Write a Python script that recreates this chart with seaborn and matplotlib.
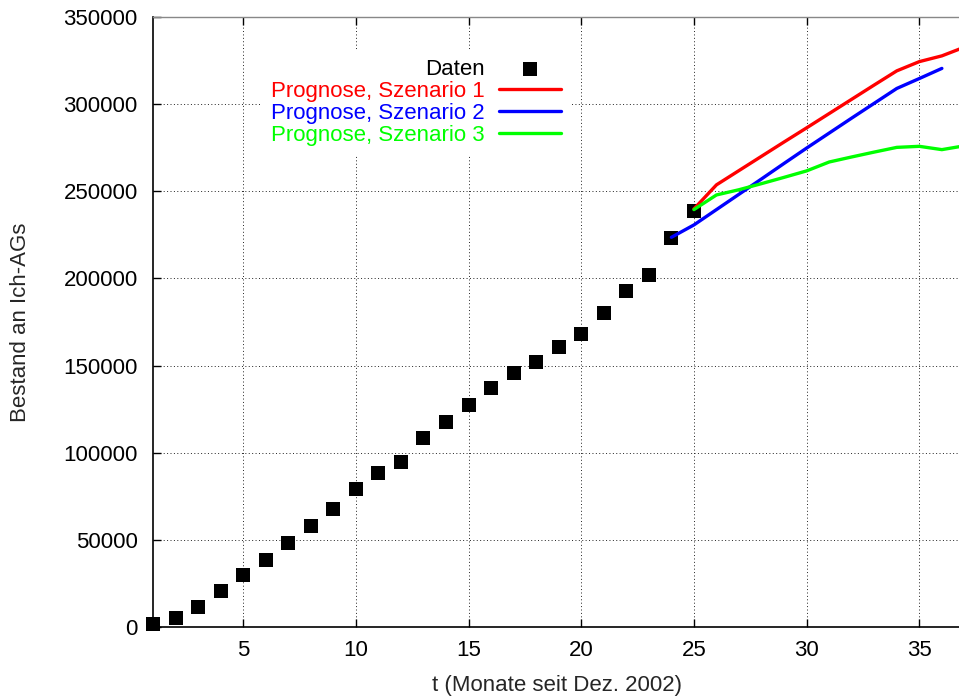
import matplotlib
matplotlib.use('Agg')
import matplotlib.pyplot as plt
import seaborn as sns

# Bestandsdaten (Monate seit Dez. 2002)
monate = list(range(1, 26))
bestand = [1900, 5200, 11500, 20600, 29800, 38200, 48200, 57900, 67500, 78900,
           88300, 94400, 108200, 117600, 127100, 137000, 146000, 152300, 160600, 168000,
           179900, 192700, 202200, 223100, 238900]

# Prognosen
t_sz1 = list(range(25, 38))
szenario1 = [239900, 253700, 261900, 270100, 278300, 286400, 294600, 302800, 311000,
             319100, 324400, 327700, 332700]
t_sz2 = list(range(24, 37))
szenario2 = [223600, 230700, 239500, 248300, 257100, 266000, 274800, 283400, 292000,
             300500, 309000, 314700, 320500]
t_sz3 = list(range(25, 38))
szenario3 = [239500, 247900, 250900, 254400, 258000, 261700, 266800, 269700, 272500,
             275200, 275800, 273900, 276100]

x_ticks = [5, 10, 15, 20, 25, 30, 35]
y_ticks = [0, 50000, 100000, 150000, 200000, 250000, 300000, 350000]

sns.set_style('ticks')
plt.rcParams['font.family'] = ['Liberation Sans', 'DejaVu Sans']
fs = 16

fig = plt.figure(figsize=(9.59, 6.97), dpi=100)
ax = fig.add_axes([153 / 959, 70 / 697, 806 / 959, 610 / 697])

sns.scatterplot(x=monate, y=bestand, ax=ax, marker='s', s=95, color='black',
                linewidth=0, label='Daten', clip_on=False, zorder=3)
sns.lineplot(x=t_sz1, y=szenario1, ax=ax, color='#ff0000', linewidth=2.4,
             label='Prognose, Szenario 1', zorder=4)
sns.lineplot(x=t_sz2, y=szenario2, ax=ax, color='#0000ff', linewidth=2.4,
             label='Prognose, Szenario 2', zorder=4)
sns.lineplot(x=t_sz3, y=szenario3, ax=ax, color='#00ff00', linewidth=2.4,
             label='Prognose, Szenario 3', zorder=4)

ax.set_xlim(1, 36.76)
ax.set_ylim(0, 350000)
ax.set_xticks(x_ticks)
ax.set_yticks(y_ticks)
ax.set_xticklabels([str(v) for v in x_ticks])
ax.set_yticklabels([str(v) for v in y_ticks])
ax.tick_params(direction='in', length=6, width=1, labelsize=fs, colors='black',
               top=True, right=False, pad=9)
ax.tick_params(axis='y', pad=11)

ax.grid(True, color='#222222', linestyle=(0, (1, 2.5)), linewidth=0.7)
ax.set_axisbelow(True)
for side in ['left', 'bottom']:
    ax.spines[side].set_color('black')
    ax.spines[side].set_linewidth(1.2)
ax.spines['top'].set_color('#888888')
ax.spines['top'].set_linewidth(1.0)
ax.spines['right'].set_visible(False)

ax.set_xlabel('t (Monate seit Dez. 2002)', fontsize=fs)
ax.set_ylabel('Bestand an Ich-AGs', fontsize=fs)
ax.xaxis.set_label_coords(0.501, -0.078)
ax.yaxis.set_label_coords(-0.151, 0.5)

leg = ax.legend(loc='upper right', bbox_to_anchor=(570 / 959, 647 / 697),
                bbox_transform=fig.transFigure, markerfirst=False,
                labelcolor='linecolor', fontsize=fs, frameon=True,
                fancybox=False, framealpha=1, edgecolor='white',
                handlelength=2.8, handletextpad=0.65, labelspacing=0.05,
                borderpad=0.4, borderaxespad=0, scatterpoints=1)
leg.get_frame().set_linewidth(0)
leg.get_texts()[0].set_color('black')

fig.savefig('out.png', dpi=100)
